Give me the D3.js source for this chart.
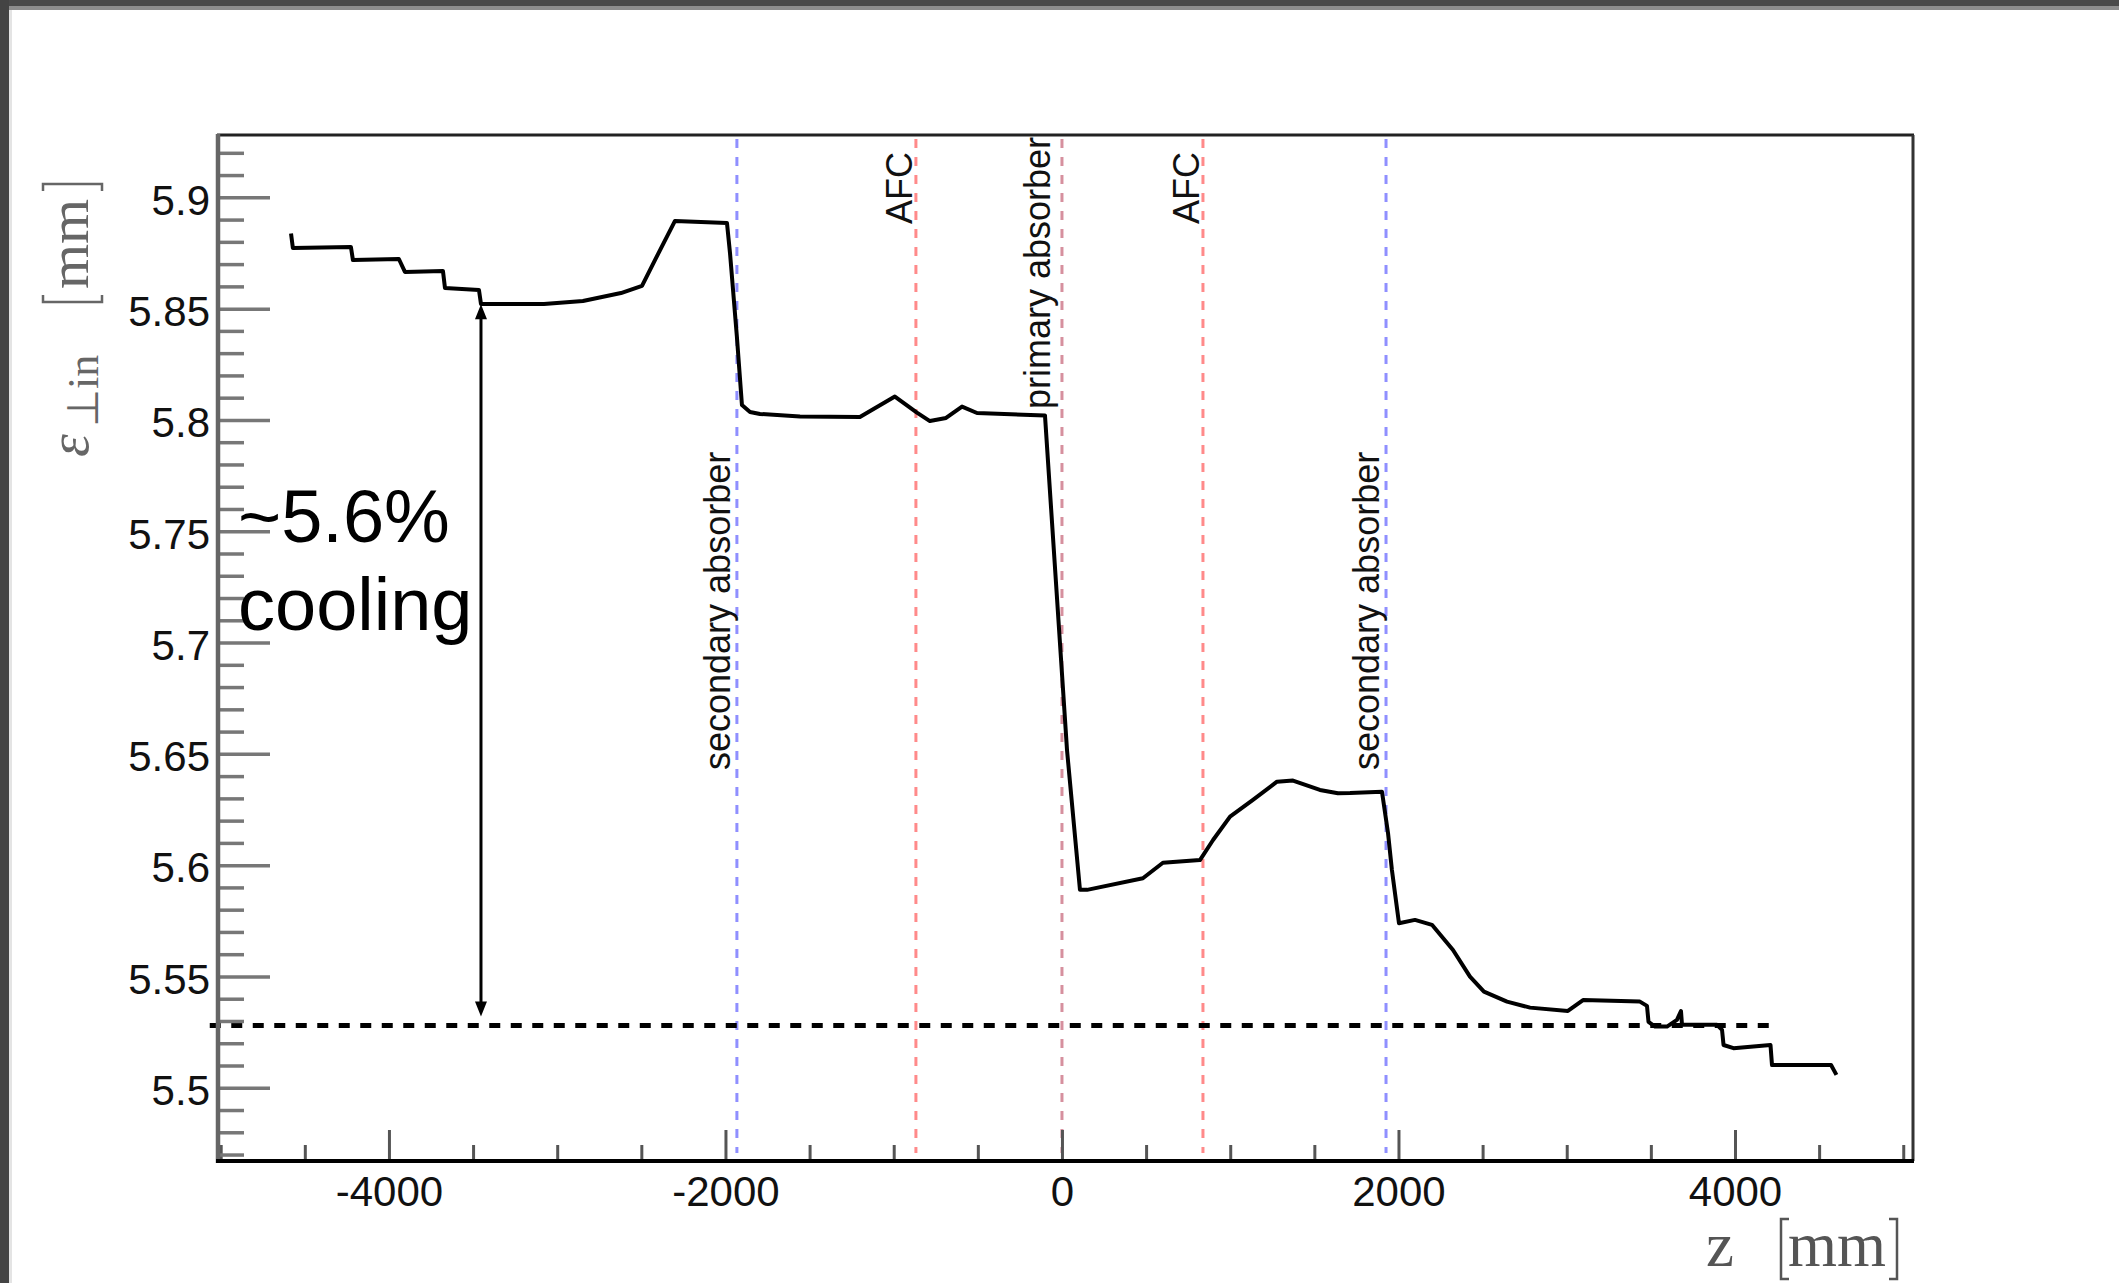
<!DOCTYPE html>
<html>
<head>
<meta charset="utf-8">
<script src="https://cdn.jsdelivr.net/npm/d3@7"></script>
<style>
  html, body { margin: 0; padding: 0; background: #fff; }
  svg { display: block; }
</style>
</head>
<body>
<div id="chart"></div>
<script>
// emittance along the beam line
const zPositions = [-4582, -4571, -4226, -4214, -3941, -3905, -3679, -3667, -3465, -3453,
  -3079, -2847, -2621, -2496, -2419, -2300, -1991, -1973, -1932, -1902,
  -1854, -1795, -1557, -1201, -993, -862, -785, -689, -594, -505,
  -101, 30, 107, 149, 481, 600, 820, 898, 999, 1135,
  1278, 1373, 1533, 1640, 1712, 1902, 1938, 1961, 2003, 2098,
  2199, 2324, 2425, 2508, 2645, 2782, 3007, 3097, 3435, 3477,
  3486, 3525, 3596, 3655, 3679, 3685, 3893, 3923, 3932, 3991,
  4211, 4220, 4571, 4603];
const emittance = [5.8837, 5.8772, 5.8777, 5.8718, 5.8723, 5.8665, 5.8669, 5.8593, 5.8584, 5.8521,
  5.8521, 5.8534, 5.8570, 5.8602, 5.8718, 5.8894, 5.8885, 5.8750, 5.8373, 5.8067,
  5.8036, 5.8027, 5.8015, 5.8013, 5.8105, 5.8033, 5.7995, 5.8009, 5.8060, 5.8031,
  5.8020, 5.6517, 5.5889, 5.5889, 5.5941, 5.6011, 5.6023, 5.6113, 5.6218, 5.6293,
  5.6375, 5.6380, 5.6338, 5.6323, 5.6324, 5.6330, 5.6143, 5.5978, 5.5739, 5.5754,
  5.5732, 5.5619, 5.5499, 5.5432, 5.5387, 5.5360, 5.5345, 5.5394, 5.5387, 5.5368,
  5.5296, 5.5275, 5.5275, 5.5305, 5.5345, 5.5283, 5.5283, 5.5260, 5.5192, 5.5178,
  5.5192, 5.5102, 5.5102, 5.5058];

const xTickValues = [-4000, -2000, 0, 2000, 4000];
const xTickLabels = ["-4000", "-2000", "0", "2000", "4000"];
const yTickValues = [5.5, 5.55, 5.6, 5.65, 5.7, 5.75, 5.8, 5.85, 5.9];
const yTickLabels = ["5.5", "5.55", "5.6", "5.65", "5.7", "5.75", "5.8", "5.85", "5.9"];

const markerZ = [-1932, -868, 0, 838, 1926];
const markerNames = ["secondary absorber", "AFC", "primary absorber", "AFC", "secondary absorber"];
const markerKinds = ["secondary", "afc", "primary", "afc", "secondary"];

const referenceLevel = 5.528;
const referenceSpan = [-5065, 4256];
const arrowZ = -3453;
const arrowSpan = [5.852, 5.532];
const coolingText = ["~5.6%", "cooling"];

function drawChart() {
  const W = 2119, H = 1283;
  const plotLeft = 218, plotRight = 1913, plotTop = 135, plotBottom = 1161;

  const svg = d3.select("#chart").append("svg")
    .attr("width", W).attr("height", H);

  // screenshot border
  svg.append("rect").attr("width", W).attr("height", H).attr("fill", "#fff");
  svg.append("rect").attr("x", 0).attr("y", 0).attr("width", W).attr("height", 6).attr("fill", "#4a4a4a");
  svg.append("rect").attr("x", 0).attr("y", 6).attr("width", W).attr("height", 4).attr("fill", "#8e8e8e");
  svg.append("rect").attr("x", 0).attr("y", 0).attr("width", 9).attr("height", H).attr("fill", "#444");
  svg.append("rect").attr("x", 9).attr("y", 10).attr("width", 3).attr("height", H).attr("fill", "#e4e4e4");

  const x = d3.scaleLinear().domain([-5016, 5058]).range([plotLeft, plotRight]);
  const y = d3.scaleLinear().domain([5.4671, 5.928]).range([plotBottom, plotTop]);

  // vertical markers
  const markerColor = { secondary: "#8f8fff", afc: "#ff8a8a", primary: "#d6909e" };
  const labelLayout = {
    secondary: { dx: -7, y: 770, anchor: "start" },
    afc: { dx: -4, y: 152, anchor: "end" },
    primary: { dx: -12, y: 137, anchor: "end" }
  };

  svg.append("g").selectAll("line")
    .data(markerZ)
    .join("line")
    .attr("x1", d => x(d)).attr("x2", d => x(d))
    .attr("y1", 139).attr("y2", 1153)
    .attr("stroke", (d, i) => markerColor[markerKinds[i]])
    .attr("stroke-width", 3)
    .attr("stroke-dasharray", "9,9");

  svg.append("g").selectAll("text")
    .data(markerZ)
    .join("text")
    .attr("transform", (d, i) => {
      const l = labelLayout[markerKinds[i]];
      return `translate(${x(d) + l.dx},${l.y}) rotate(-90)`;
    })
    .attr("text-anchor", (d, i) => labelLayout[markerKinds[i]].anchor)
    .attr("font-family", "Liberation Sans, Arial, sans-serif")
    .attr("font-size", 36)
    .attr("fill", "#111")
    .text((d, i) => markerNames[i]);

  // emittance curve
  const points = zPositions.map((z, i) => [z, emittance[i]]);
  svg.append("path")
    .datum(points)
    .attr("fill", "none")
    .attr("stroke", "#000")
    .attr("stroke-width", 4)
    .attr("stroke-linejoin", "round")
    .attr("d", d3.line().x(d => x(d[0])).y(d => y(d[1])));

  // reference level
  svg.append("line")
    .attr("x1", x(referenceSpan[0])).attr("x2", x(referenceSpan[1]))
    .attr("y1", y(referenceLevel)).attr("y2", y(referenceLevel))
    .attr("stroke", "#000").attr("stroke-width", 5)
    .attr("stroke-dasharray", "11,10.5");

  // double arrow
  const ax = x(arrowZ), ay1 = y(arrowSpan[0]), ay2 = y(arrowSpan[1]);
  svg.append("line")
    .attr("x1", ax).attr("x2", ax).attr("y1", ay1 + 8).attr("y2", ay2 - 8)
    .attr("stroke", "#000").attr("stroke-width", 3);
  svg.append("path")
    .attr("d", `M${ax},${ay1} L${ax - 6},${ay1 + 15} L${ax + 6},${ay1 + 15} Z M${ax},${ay2} L${ax - 6},${ay2 - 15} L${ax + 6},${ay2 - 15} Z`)
    .attr("fill", "#000");

  // axes
  const xMinor = d3.range(-5000, 5001, 500).filter(v => v % 2000 !== 0);
  const yMinor = d3.range(547, 593).filter(v => v % 5 !== 0).map(v => v / 100);

  svg.append("g")
    .attr("transform", `translate(0,${plotBottom})`)
    .call(d3.axisBottom(x).tickValues(xMinor).tickSize(-16).tickFormat(""))
    .call(g => g.select(".domain").remove())
    .call(g => g.selectAll("line").attr("stroke", "#555").attr("stroke-width", 3));

  svg.append("g")
    .attr("transform", `translate(0,${plotBottom})`)
    .call(d3.axisBottom(x).tickValues(xTickValues).tickSize(-31).tickPadding(15)
      .tickFormat((d, i) => xTickLabels[i]))
    .call(g => g.select(".domain").remove())
    .call(g => g.selectAll("line").attr("stroke", "#555").attr("stroke-width", 3))
    .call(g => g.selectAll("text")
      .attr("font-family", "Liberation Sans, Arial, sans-serif")
      .attr("font-size", 42).attr("fill", "#111"));

  svg.append("g")
    .attr("transform", `translate(${plotLeft},0)`)
    .call(d3.axisLeft(y).tickValues(yMinor).tickSize(-26).tickFormat(""))
    .call(g => g.select(".domain").remove())
    .call(g => g.selectAll("line").attr("stroke", "#777").attr("stroke-width", 3.5));

  svg.append("g")
    .attr("transform", `translate(${plotLeft},0)`)
    .call(d3.axisLeft(y).tickValues(yTickValues).tickSize(-52).tickPadding(8)
      .tickFormat((d, i) => yTickLabels[i]))
    .call(g => g.select(".domain").remove())
    .call(g => g.selectAll("line").attr("stroke", "#777").attr("stroke-width", 3.5))
    .call(g => g.selectAll("text")
      .attr("dy", "0.4em")
      .attr("font-family", "Liberation Sans, Arial, sans-serif")
      .attr("font-size", 42).attr("fill", "#111"));

  // frame
  svg.append("line").attr("x1", plotLeft - 1).attr("x2", plotRight + 1).attr("y1", plotTop).attr("y2", plotTop)
    .attr("stroke", "#222").attr("stroke-width", 3);
  svg.append("line").attr("x1", plotRight).attr("x2", plotRight).attr("y1", plotTop).attr("y2", plotBottom)
    .attr("stroke", "#333").attr("stroke-width", 3);
  svg.append("line").attr("x1", plotLeft).attr("x2", plotLeft).attr("y1", plotTop - 1).attr("y2", plotBottom + 2)
    .attr("stroke", "#666").attr("stroke-width", 4.5);
  svg.append("line").attr("x1", plotLeft - 2).attr("x2", plotRight + 1).attr("y1", plotBottom).attr("y2", plotBottom)
    .attr("stroke", "#000").attr("stroke-width", 4);

  // x axis title
  const titleColor = "#555";
  svg.append("text").attr("x", 1706).attr("y", 1266)
    .attr("font-family", "Liberation Serif, Times New Roman, serif")
    .attr("font-size", 63).attr("fill", titleColor).text("z");
  svg.append("path").attr("d", "M1789,1219 H1781 V1279 H1789")
    .attr("fill", "none").attr("stroke", titleColor).attr("stroke-width", 2.5);
  svg.append("text").attr("x", 1788).attr("y", 1266)
    .attr("font-family", "Liberation Serif, Times New Roman, serif")
    .attr("font-size", 63).attr("fill", titleColor).text("mm");
  svg.append("path").attr("d", "M1889,1219 H1897 V1279 H1889")
    .attr("fill", "none").attr("stroke", titleColor).attr("stroke-width", 2.5);

  // y axis title
  const yt = svg.append("g").attr("transform", "translate(88,457) rotate(-90)")
    .attr("fill", "#666")
    .attr("font-family", "Liberation Serif, Times New Roman, serif");
  yt.append("text").attr("x", 0).attr("y", 0).attr("font-size", 58)
    .attr("font-style", "italic").text("ε");
  yt.append("text").attr("x", 30).attr("y", 10).attr("font-size", 44).text("⊥in");
  yt.append("path").attr("d", "M162,-45 H155 V14 H162")
    .attr("fill", "none").attr("stroke", "#666").attr("stroke-width", 2.5);
  yt.append("text").attr("x", 168).attr("y", 0).attr("font-size", 58).text("mm");
  yt.append("path").attr("d", "M266,-45 H273 V14 H266")
    .attr("fill", "none").attr("stroke", "#666").attr("stroke-width", 2.5);

  // annotation
  svg.append("g").selectAll("text")
    .data(coolingText)
    .join("text")
    .attr("x", 238)
    .attr("y", (d, i) => 542 + i * 88)
    .attr("font-family", "Liberation Sans, Arial, sans-serif")
    .attr("font-size", 74)
    .attr("fill", "#000")
    .text(d => d);
}

drawChart();
</script>
</body>
</html>
